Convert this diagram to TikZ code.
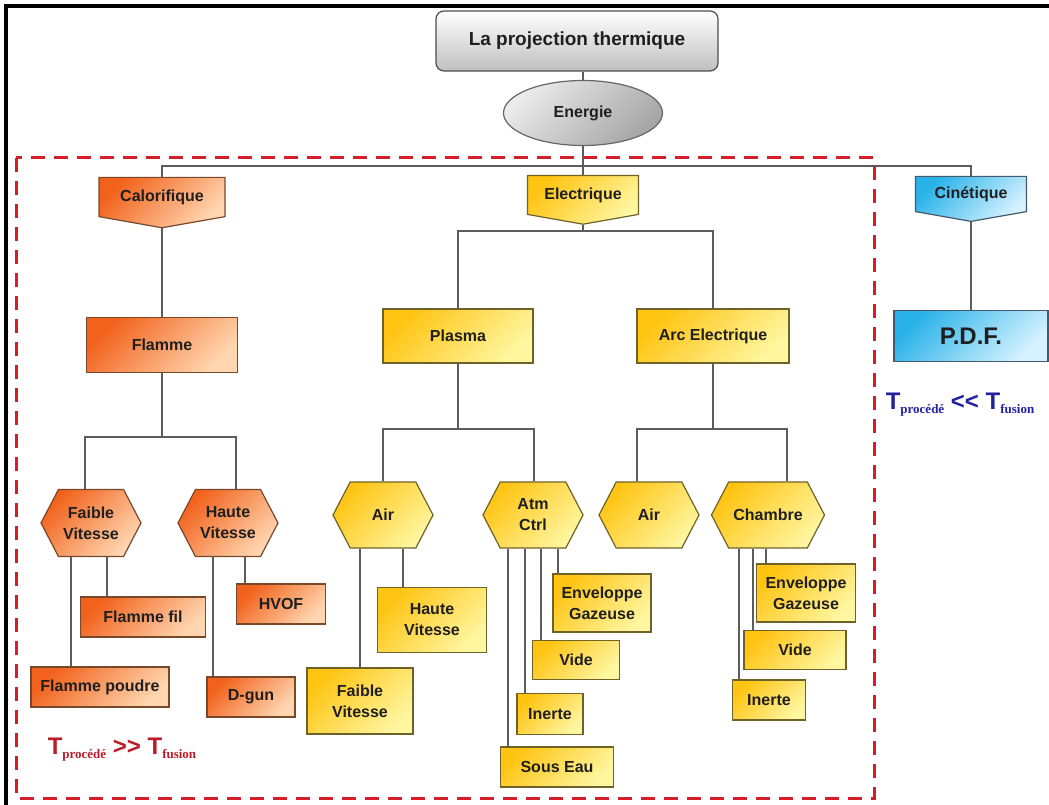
\documentclass[tikz,border=0pt]{standalone}
\usepackage{fontspec}
\setmainfont{Liberation Sans}
\newfontfamily\subfont{Liberation Serif}
\usepackage{tikz}
\usetikzlibrary{shapes.geometric,shapes.symbols,positioning}
\definecolor{OrDark}{RGB}{242, 98, 28}
\definecolor{OrLight}{RGB}{255, 214, 176}
\definecolor{OrLine}{RGB}{120, 72, 42}
\definecolor{YeDark}{RGB}{255, 196, 18}
\definecolor{YeLight}{RGB}{255, 246, 160}
\definecolor{YeLine}{RGB}{110, 98, 40}
\definecolor{BlDark}{RGB}{40, 178, 232}
\definecolor{BlLight}{RGB}{214, 242, 255}
\definecolor{BlLine}{RGB}{70, 88, 108}
\definecolor{LinkGray}{RGB}{92, 92, 92}
\definecolor{FrameRed}{RGB}{212, 30, 42}
\definecolor{TxtRed}{RGB}{188, 28, 40}
\definecolor{TxtBlue}{RGB}{34, 34, 160}
\newcommand{\Tsub}[1]{T{\subfont\fontsize{13}{13}\selectfont\raisebox{-4pt}{#1}}}

\begin{document}
\begin{tikzpicture}[x=1pt, y=-1pt, font=\fontsize{16}{21}\selectfont\bfseries,
  box/.style={draw, line width=1.2pt, align=center, inner sep=2pt, text=black!88},
  orbox/.style={box, draw=OrLine, top color=OrDark, bottom color=OrLight, shading angle=45},
  yebox/.style={box, draw=YeLine, top color=YeDark, bottom color=YeLight, shading angle=45},
  blbox/.style={box, draw=BlLine, top color=BlDark, bottom color=BlLight, shading angle=45},
  hexa/.style={shape=signal, signal to=east and west, signal pointer angle=125},
  tag/.style={shape=signal, signal to=south, signal from=nowhere, signal pointer angle=160},
  link/.style={draw=LinkGray, line width=1.3pt},
  note/.style={font=\fontsize{24}{26}\selectfont\bfseries}]

  \useasboundingbox (0,0) rectangle (1049,805);
  \draw[line width=3.5pt] (6,806) -- (6,6) -- (1050,6);
  \draw[FrameRed, line width=3pt, dash pattern=on 14pt off 9pt] (16,158) rectangle (874,798);

  % top
  \node[box, draw=black!70, rounded corners=8pt, top color=white, bottom color=black!25,
        minimum width=282pt, minimum height=60pt, font=\fontsize{19}{21}\selectfont\bfseries] (title) at (577,41) {La projection thermique};
  \node[box, draw=black!60, ellipse, top color=black!8, bottom color=black!35, shading angle=45,
        minimum width=159pt, minimum height=65pt] (energie) at (583,113) {Energie};

  \node[orbox, tag, minimum width=126pt, minimum height=47pt] (calor) at (162,197) {Calorifique};
  \node[yebox, tag, minimum width=111pt, minimum height=46pt] (elec) at (583,195) {Electrique};
  \node[blbox, tag, minimum width=111pt, minimum height=42pt] (cine) at (971,194) {Cinétique};

  \node[orbox, minimum width=151pt, minimum height=55pt] (flamme) at (162,345) {Flamme};
  \node[yebox, minimum width=150pt, minimum height=54pt] (plasma) at (458,336) {Plasma};
  \node[yebox, minimum width=152pt, minimum height=54pt] (arc) at (713,336) {Arc Electrique};
  \node[blbox, minimum width=154pt, minimum height=51pt, font=\fontsize{24}{26}\selectfont\bfseries] (pdf) at (971,336) {P.D.F.};

  % hexagons
  \node[orbox, hexa, minimum width=100pt, minimum height=67pt] (fv) at (91,523) {Faible\\Vitesse};
  \node[orbox, hexa, minimum width=100pt, minimum height=67pt] (hv) at (228,523) {Haute\\Vitesse};
  \node[yebox, hexa, minimum width=100pt, minimum height=66pt] (air1) at (383,515) {Air};
  \node[yebox, hexa, minimum width=100pt, minimum height=66pt] (atm) at (533,515) {Atm\\Ctrl};
  \node[yebox, hexa, minimum width=100pt, minimum height=66pt] (air2) at (649,515) {Air};
  \node[yebox, hexa, minimum width=113pt, minimum height=66pt] (chambre) at (768,515) {Chambre};

  % leaves
  \node[orbox, minimum width=125pt, minimum height=40pt] (fil) at (143,617) {Flamme fil};
  \node[orbox, minimum width=138pt, minimum height=40pt] (poudre) at (100,687) {Flamme poudre};
  \node[orbox, minimum width=89pt, minimum height=40pt] (hvof) at (281,604) {HVOF};
  \node[orbox, minimum width=88pt, minimum height=40pt] (dgun) at (251,697) {D-gun};
  \node[yebox, minimum width=109pt, minimum height=65pt] (hv2) at (432,620) {Haute\\Vitesse};
  \node[yebox, minimum width=106pt, minimum height=66pt] (fv2) at (360,701) {Faible\\Vitesse};
  \node[yebox, minimum width=98pt, minimum height=58pt] (env1) at (602,603) {Enveloppe\\Gazeuse};
  \node[yebox, minimum width=87pt, minimum height=39pt] (vide1) at (576,660) {Vide};
  \node[yebox, minimum width=66pt, minimum height=41pt] (inerte1) at (550,714) {Inerte};
  \node[yebox, minimum width=113pt, minimum height=40pt] (eau) at (557,767) {Sous Eau};
  \node[yebox, minimum width=99pt, minimum height=58pt] (env2) at (806,593) {Enveloppe\\Gazeuse};
  \node[yebox, minimum width=102pt, minimum height=39pt] (vide2) at (795,650) {Vide};
  \node[yebox, minimum width=73pt, minimum height=40pt] (inerte2) at (769,700) {Inerte};

  \node[note, text=TxtRed] (hot) at (122,750) {\Tsub{procédé} >{}> \Tsub{fusion}};
  \node[note, text=TxtBlue] (cold) at (960,405) {\Tsub{procédé} <{}< \Tsub{fusion}};

  % connectors
  \coordinate (bar) at (583,166);
  \draw[link] (energie.north |- title.south) -- (energie.north);
  \draw[link] (energie.south) -- (elec.north);
  \draw[link] (calor.north) |- (bar) -| (cine.north);
  \draw[link] (cine.south) -- (pdf.north);

  \coordinate (fj) at (162,437);
  \draw[link] (calor.south) -- (flamme.north);
  \draw[link] (flamme.south) -- (fj);
  \draw[link] ([xshift=-6pt]fv.north) |- (fj) -| ([xshift=8pt]hv.north);
  \draw[link] ([xshift=-20pt]fv.south) -- ([xshift=-20pt]fv.south |- poudre.north);
  \draw[link] ([xshift=16pt]fv.south) -- ([xshift=16pt]fv.south |- fil.north);
  \draw[link] ([xshift=-15pt]hv.south) -- ([xshift=-15pt]hv.south |- dgun.north);
  \draw[link] ([xshift=17pt]hv.south) -- ([xshift=17pt]hv.south |- hvof.north);

  \coordinate (ej) at (583,231);
  \draw[link] (elec.south) -- (ej);
  \draw[link] (plasma.north) |- (ej) -| (arc.north);

  \coordinate (pj) at (458,429);
  \draw[link] (plasma.south) -- (pj);
  \draw[link] (air1.north) |- (pj) -| ([xshift=1pt]atm.north);
  \draw[link] ([xshift=-23pt]air1.south) -- ([xshift=-23pt]air1.south |- fv2.north);
  \draw[link] ([xshift=20pt]air1.south) -- ([xshift=20pt]air1.south |- hv2.north);
  \draw[link] ([xshift=-25pt]atm.south) -- ([xshift=-25pt]atm.south |- eau.north);
  \draw[link] ([xshift=-8pt]atm.south) -- ([xshift=-8pt]atm.south |- inerte1.north);
  \draw[link] ([xshift=8pt]atm.south) -- ([xshift=8pt]atm.south |- vide1.north);
  \draw[link] ([xshift=25pt]atm.south) -- ([xshift=25pt]atm.south |- env1.north);

  \coordinate (aj) at (713,429);
  \draw[link] (arc.south) -- (aj);
  \draw[link] ([xshift=-12pt]air2.north) |- (aj) -| ([xshift=19pt]chambre.north);
  \draw[link] ([xshift=-29pt]chambre.south) -- ([xshift=-29pt]chambre.south |- inerte2.north);
  \draw[link] ([xshift=-15pt]chambre.south) -- ([xshift=-15pt]chambre.south |- vide2.north);
  \draw[link] ([xshift=-2pt]chambre.south) -- ([xshift=-2pt]chambre.south |- env2.north);
\end{tikzpicture}
\end{document}
